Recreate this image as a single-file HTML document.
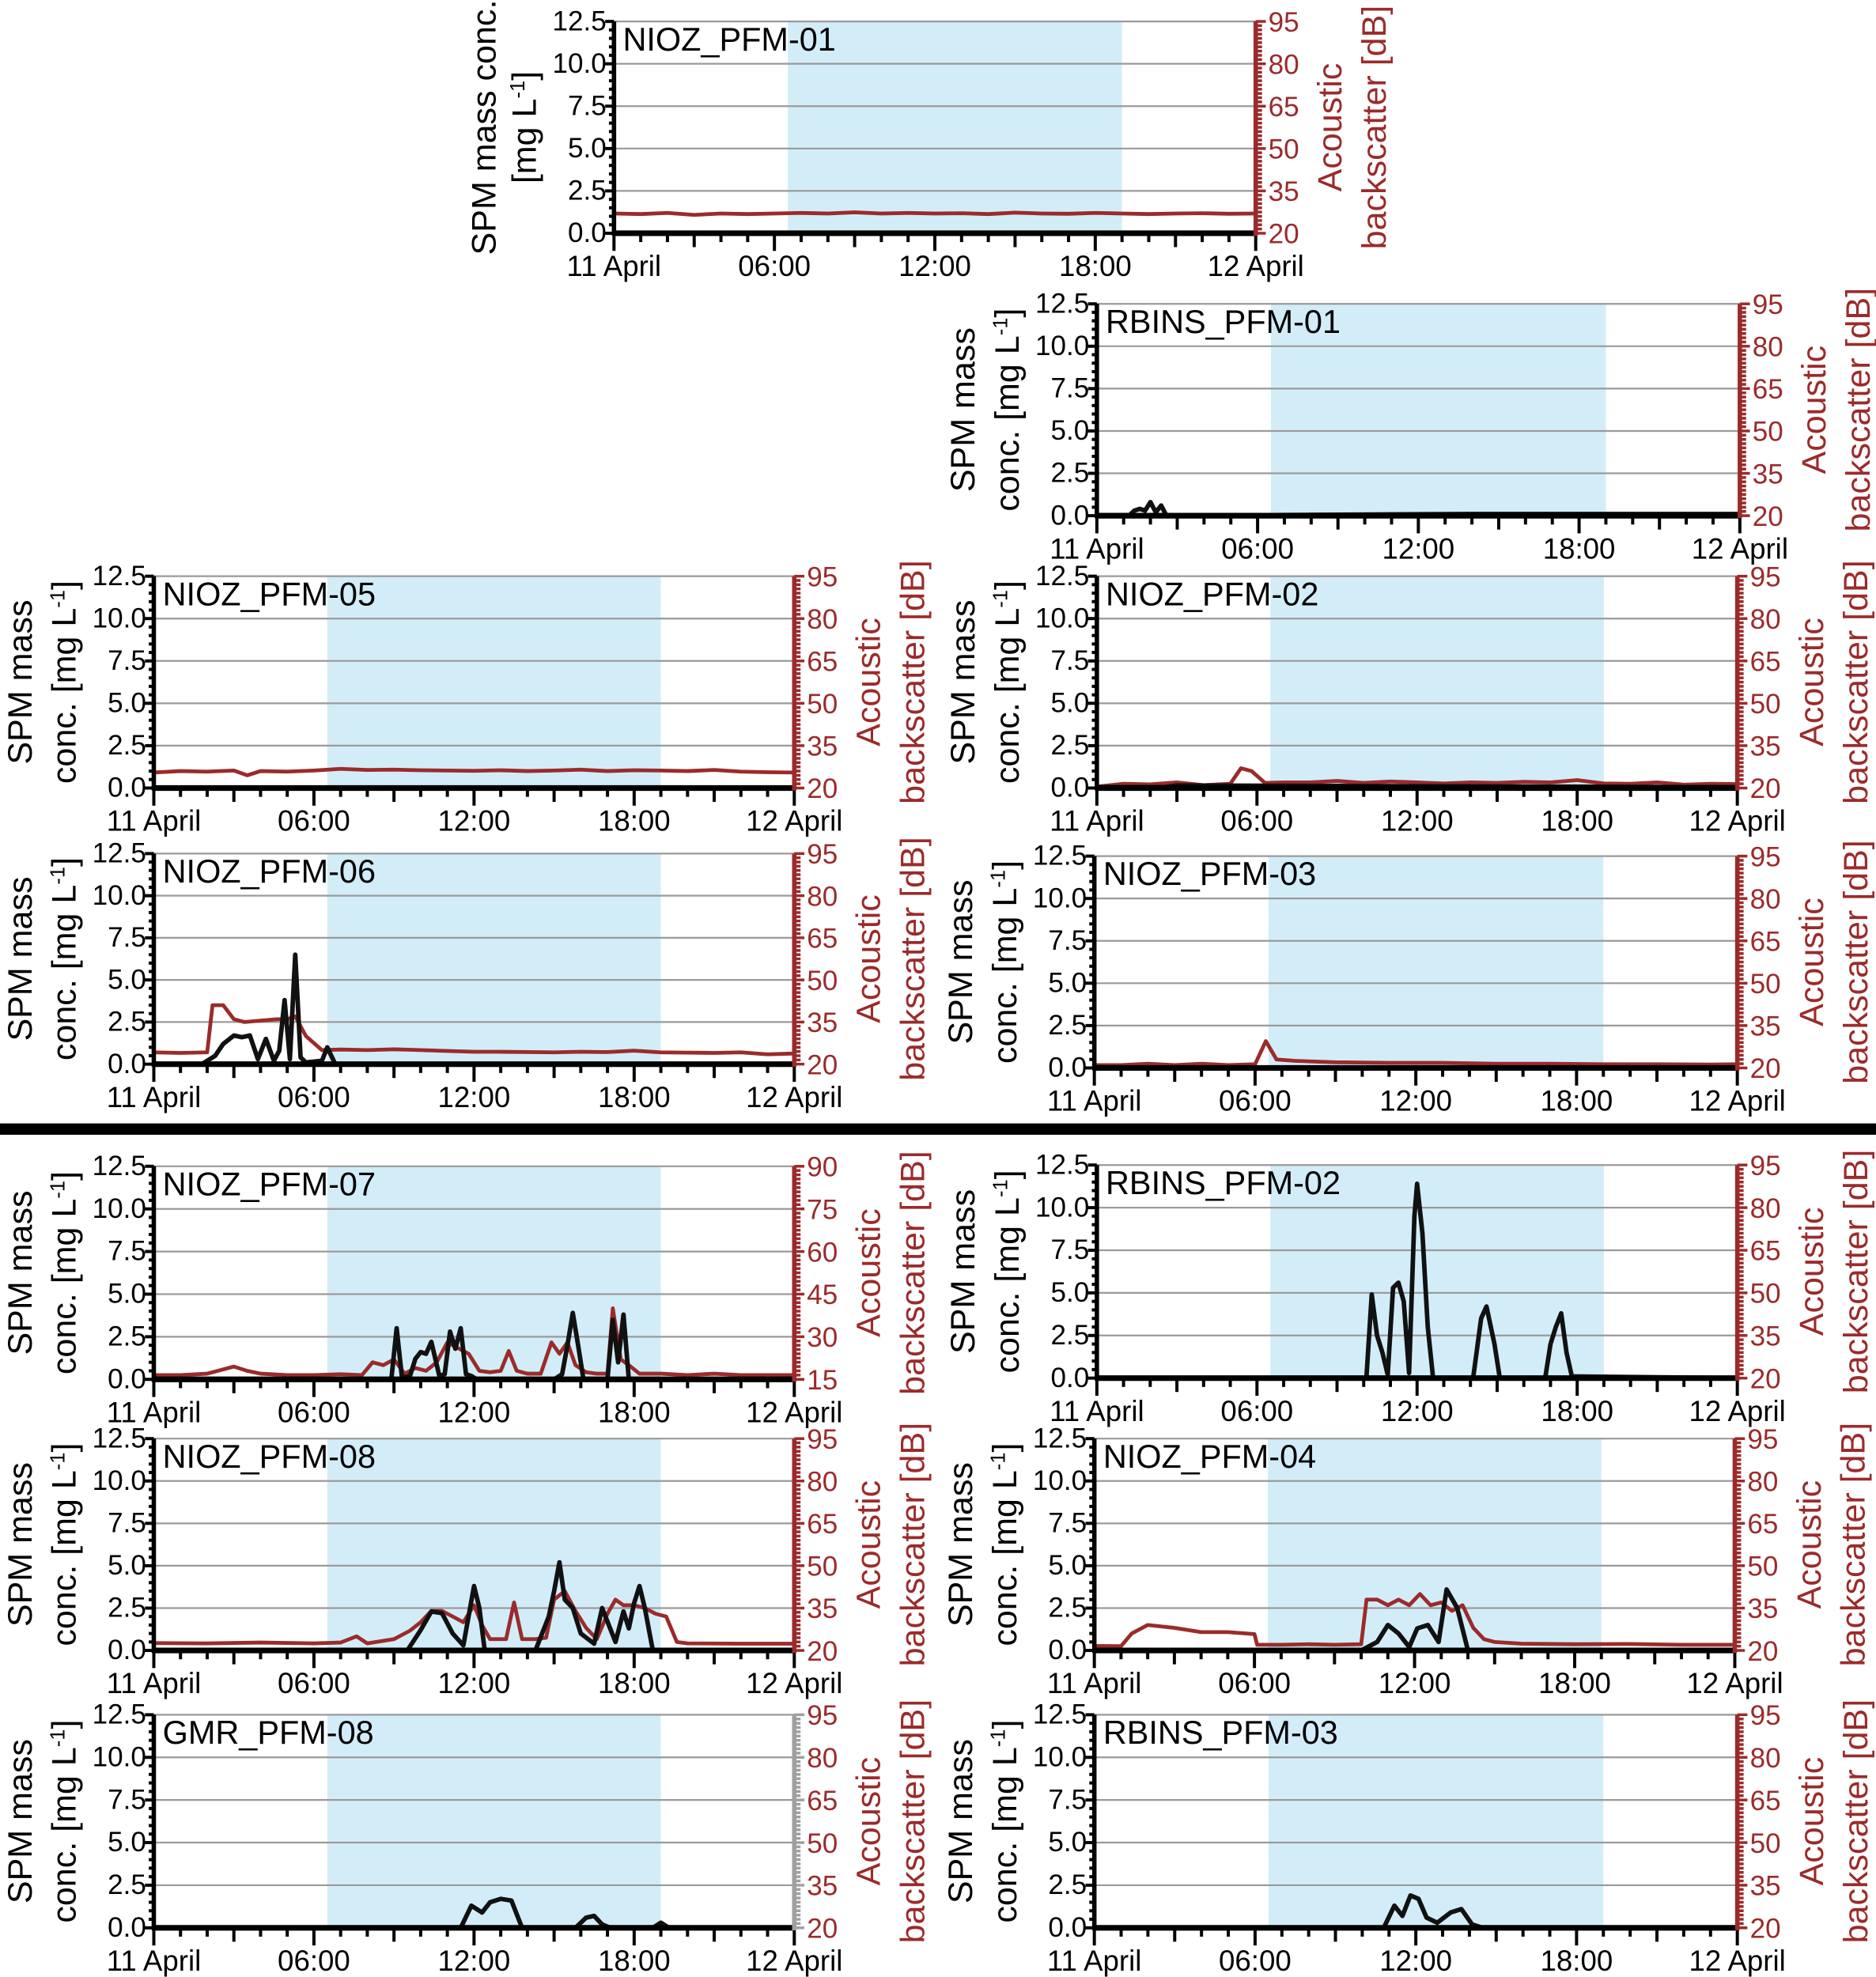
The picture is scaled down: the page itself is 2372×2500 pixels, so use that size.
<!DOCTYPE html>
<html><head><meta charset="utf-8"><style>
html,body{margin:0;padding:0;background:#fff}
svg{display:block}
text{font-family:"Liberation Sans Narrow","Liberation Sans",sans-serif}
.tt{font-family:"Liberation Sans",sans-serif}
</style></head><body>
<svg id="fig" width="2372" height="2500" viewBox="0 0 1488 1568" preserveAspectRatio="none" xmlns="http://www.w3.org/2000/svg">
<rect x="0" y="891" width="1488" height="9" fill="#000"/>
</svg>
<script>
// ---- data (hours since 11 April 00:00, SPM mg/L, backscatter dB) ----
const panelNames = ["NIOZ_PFM-01","RBINS_PFM-01","NIOZ_PFM-05","NIOZ_PFM-02","NIOZ_PFM-06","NIOZ_PFM-03","NIOZ_PFM-07","RBINS_PFM-02","NIOZ_PFM-08","NIOZ_PFM-04","GMR_PFM-08","RBINS_PFM-03"];
const shadeStart = 6.5, shadeEnd = 19.0;
const xTickLabels = ["11 April","06:00","12:00","18:00","12 April"];
const yTickLabels = ["0.0","2.5","5.0","7.5","10.0","12.5"];
const dbTicksStd = [20,35,50,65,80,95];
const dbTicks07 = [15,30,45,60,75,90];

const blackT = {
 "NIOZ_PFM-01":[0,24], "NIOZ_PFM-05":[0,24],
 "RBINS_PFM-01":[0,1.2,1.4,1.6,1.8,2.0,2.2,2.4,2.6,14,24],
 "NIOZ_PFM-02":[0,2.5,3,24],
 "NIOZ_PFM-06":[0,1.8,2.3,2.6,3.0,3.3,3.6,3.9,4.2,4.5,4.7,4.9,5.1,5.3,5.5,5.7,6.3,6.5,6.8,24],
 "NIOZ_PFM-03":[0,24],
 "NIOZ_PFM-07":[0,8.9,9.1,9.3,9.6,9.8,10.0,10.2,10.4,10.7,10.9,11.1,11.3,11.5,11.7,11.9,12.1,15.0,15.3,15.5,15.7,15.9,16.1,17.0,17.2,17.4,17.6,17.8,24],
 "RBINS_PFM-02":[0,10.1,10.3,10.5,10.7,10.9,11.1,11.3,11.5,11.7,11.9,12.0,12.2,12.4,12.6,14.1,14.4,14.6,14.9,15.1,16.8,17.0,17.2,17.4,17.6,17.8,24],
 "NIOZ_PFM-08":[0,9.5,10.0,10.4,10.8,11.2,11.6,12.0,12.2,12.4,14.3,14.8,15.0,15.2,15.4,15.7,16.0,16.5,16.8,17.3,17.6,17.8,18.0,18.2,18.4,18.7,24],
 "NIOZ_PFM-04":[0,10.0,10.6,11.0,11.4,11.8,12.1,12.5,12.9,13.2,13.6,14.0,24],
 "GMR_PFM-08":[0,11.5,11.9,12.3,12.6,13.0,13.4,13.8,15.8,16.2,16.5,16.8,17.1,18.7,19.0,19.3,24],
 "RBINS_PFM-03":[0,10.8,11.2,11.5,11.8,12.1,12.4,12.8,13.3,13.7,14.1,14.5,24]
};
const blackV = {
 "NIOZ_PFM-01":[0,0], "NIOZ_PFM-05":[0,0],
 "RBINS_PFM-01":[0,0,0.3,0.4,0.3,0.8,0.2,0.6,0,0.1,0.1],
 "NIOZ_PFM-02":[0.05,0.05,0.15,0.05],
 "NIOZ_PFM-06":[0,0,0.5,1.2,1.7,1.6,1.7,0.3,1.5,0.2,0.8,3.8,0.3,6.5,0.4,0.1,0.2,1.0,0,0],
 "NIOZ_PFM-03":[0,0],
 "NIOZ_PFM-07":[0,0,3.0,0.1,0.2,1.2,1.6,1.5,2.2,0.2,0.3,2.8,1.8,3.0,0.3,0.2,0,0,0.3,2.0,3.9,2.0,0,0,3.5,1.0,3.8,0,0],
 "RBINS_PFM-02":[0,0,4.9,2.5,1.5,0.2,5.3,5.6,4.5,0.3,9.5,11.4,8.5,3.0,0,0,3.5,4.2,2.0,0,0,2.0,3.0,3.8,1.5,0.1,0],
 "NIOZ_PFM-08":[0,0,1.2,2.3,2.2,1.0,0.3,3.8,2.5,0,0,2.0,3.5,5.2,3.0,2.5,1.0,0.4,2.5,0.5,2.3,1.3,2.8,3.8,2.5,0,0],
 "NIOZ_PFM-04":[0,0,0.5,1.5,1.0,0.2,1.3,1.5,0.5,3.6,2.5,0,0],
 "GMR_PFM-08":[0,0,1.3,0.9,1.5,1.7,1.6,0,0,0.6,0.7,0.2,0,0,0.3,0,0],
 "RBINS_PFM-03":[0,0,1.3,0.7,1.9,1.7,0.6,0.3,0.9,1.1,0.2,0,0]
};
const redT = {
 "NIOZ_PFM-01":[0,1,2,3,4,5,6,7,8,9,10,11,12,13,14,15,16,17,18,19,20,21,22,23,24],
 "NIOZ_PFM-05":[0,1,2,3,3.5,4,5,6,7,8,9,10,11,12,13,14,15,16,17,18,19,20,21,22,23,24],
 "NIOZ_PFM-02":[0,1,2,3,4,5,5.4,5.8,6.3,7,8,9,10,11,12,13,14,15,16,17,18,19,20,21,22,23,24],
 "NIOZ_PFM-06":[0,1,2.0,2.2,2.6,3.0,3.4,4,4.6,5.0,5.3,5.7,6.3,7,8,9,10,11,12,13,14,15,16,17,18,19,20,21,22,23,24],
 "NIOZ_PFM-03":[0,1,2,3,4,5,6,6.4,6.8,7.5,9,11,13,15,17,19,21,23,24],
 "NIOZ_PFM-07":[0,1,2,3,3.5,4,5,6,7,7.8,8.2,8.6,9.0,9.4,9.8,10.2,10.6,11.0,11.4,11.8,12.2,12.6,13.0,13.3,13.6,14.0,14.5,14.9,15.2,15.5,15.8,16.2,16.6,17.0,17.2,17.5,17.8,18.2,19,20,21,22,23,24],
 "RBINS_PFM-02":[],
 "NIOZ_PFM-08":[0,2,4,6,7,7.6,8,9,9.6,10.0,10.4,10.8,11.2,11.6,12.0,12.3,12.6,13.2,13.5,13.8,14.3,14.7,15.0,15.4,15.8,16.2,16.6,17.0,17.3,17.6,18.0,18.4,18.8,19.2,19.6,20,22,24],
 "NIOZ_PFM-04":[0,1,1.4,2,3,4,5,6,6.1,7,8,9,10,10.2,10.6,11,11.4,11.8,12.2,12.6,13,13.4,13.8,14.2,14.6,15,16,18,20,22,24],
 "GMR_PFM-08":[],
 "RBINS_PFM-01":[],
 "RBINS_PFM-03":[]
};
const redV = {
 "NIOZ_PFM-01":[27,26.8,27.2,26.5,27,26.8,27,27.2,27,27.4,27,27.2,27,27.1,26.8,27.3,27,26.9,27.2,27,26.8,27,27.1,26.9,27],
 "NIOZ_PFM-05":[25.5,26,25.8,26.2,24.5,26,25.8,26.2,26.8,26.4,26.5,26.3,26.2,26.1,26.3,26,26.2,26.5,26,26.3,26.2,26,26.4,25.8,25.6,25.5],
 "NIOZ_PFM-02":[20.5,21.5,21.3,22,21,21.5,27,26,21.8,22,22,22.5,21.8,22.3,22,21.6,22,21.8,22.2,22,22.8,21.6,21.5,22,21.2,21.5,21.4],
 "NIOZ_PFM-06":[24.2,24,24.2,41,41,36,35,35.5,36,36,37,30,25,25.2,25,25.3,25,24.7,24.4,24.4,24.3,24.2,24.4,24.3,24.8,24.2,24.1,24,24.2,23.5,23.8],
 "NIOZ_PFM-03":[21,21,21.5,21,21.5,21,21.3,29.5,23,22.5,22,21.8,21.8,21.5,21.5,21.3,21.3,21.2,21.3],
 "NIOZ_PFM-07":[16.5,16.5,17,19.5,18,17,16.5,16.5,16.8,16.5,21,20,22,17,19,18,21,28,26,24,18,17.5,18,25,18,17,17,28,24,28,20,17.5,17,17,40,22,20,17,17,16.5,17,16.5,16.5,16.5],
 "RBINS_PFM-02":[],
 "NIOZ_PFM-08":[22.6,22.5,22.8,22.5,22.8,25,22.5,24,27,30,34,34,32,30,36,29,24,24,37,24,24,24.5,38,41,34,28,24,33,38,36,36,35,33,32,23,22.5,22.4,22.4],
 "NIOZ_PFM-04":[21.6,21.5,26,29,28,26.5,26.5,25.8,22,22,22.2,22,22.2,38,38,36,38,36,40,36,37,34,36,28,24,23,22.4,22.2,22.3,22,22],
 "GMR_PFM-08":[],
 "RBINS_PFM-01":[],
 "RBINS_PFM-03":[]
};

// ---- layout ----
const layout = [
 {n:"NIOZ_PFM-01",x0:487,x1:996,y0:17,y1:185,top:true},
 {n:"RBINS_PFM-01",x0:870,x1:1380,y0:241,y1:409},
 {n:"NIOZ_PFM-05",x0:122,x1:630,y0:457,y1:625},
 {n:"NIOZ_PFM-02",x0:870,x1:1378,y0:457,y1:625},
 {n:"NIOZ_PFM-06",x0:122,x1:630,y0:677,y1:844},
 {n:"NIOZ_PFM-03",x0:868,x1:1378,y0:679,y1:847},
 {n:"NIOZ_PFM-07",x0:122,x1:630,y0:925,y1:1094,db:dbTicks07},
 {n:"RBINS_PFM-02",x0:870,x1:1378,y0:924,y1:1093},
 {n:"NIOZ_PFM-08",x0:122,x1:630,y0:1141,y1:1309},
 {n:"NIOZ_PFM-04",x0:868,x1:1376,y0:1141,y1:1309},
 {n:"GMR_PFM-08",x0:122,x1:630,y0:1360,y1:1529,gray:true},
 {n:"RBINS_PFM-03",x0:868,x1:1378,y0:1360,y1:1529}
];
const NS="http://www.w3.org/2000/svg";
const svg=document.getElementById('fig');
const RED="#9b2b2b";
function mk(tag,attrs,parent){const e=document.createElementNS(NS,tag);for(const k in attrs)e.setAttribute(k,attrs[k]);(parent||svg).appendChild(e);return e;}
function txt(s,attrs,parent){const e=mk('text',attrs,parent);e.textContent=s;return e;}

layout.forEach(p=>{
 const g=mk('g',{});
 
 
 const db=p.db||dbTicksStd, dbLo=db[0], dbHi=db[db.length-1];
 const X=h=>p.x0+(p.x1-p.x0)*h/24;
 const Y=v=>p.y1-(p.y1-p.y0)*v/12.5;
 const YD=d=>p.y1-(p.y1-p.y0)*(d-dbLo)/(dbHi-dbLo);
 const sh=mk('rect',{x:X(shadeStart),y:p.y0,width:X(shadeEnd)-X(shadeStart),height:p.y1-p.y0,fill:"#d3edf8"},g);
 
 
 for(let i=1;i<=5;i++){
  const gl=mk('line',{x1:p.x0,x2:p.x1,y1:Y(i*2.5),y2:Y(i*2.5),stroke:"#9a9a9a","stroke-width":1.4},g);
  
  
 }
 const rt=redT[p.n], rv=redV[p.n];
 if(rt.length){
  const pl=mk('polyline',{points:rt.map((t,i)=>X(t)+","+YD(rv[i])).join(" "),fill:"none",stroke:RED,"stroke-width":3,"stroke-linejoin":"round"},g);
  
  
 }
 const bt=blackT[p.n], bv=blackV[p.n];
 const bl=mk('polyline',{points:bt.map((t,i)=>X(t)+","+Y(bv[i])).join(" "),fill:"none",stroke:"#111","stroke-width":3.6,"stroke-linejoin":"round"},g);
 
 
 const la=mk('line',{x1:p.x0,x2:p.x0,y1:p.y0,y2:p.y1+2,stroke:"#000","stroke-width":3.5},g);
 
 
 for(let v=0;v<=12.5001;v+=0.5){
  const major=Math.abs(v/2.5-Math.round(v/2.5))<1e-6;
  mk('line',{x1:p.x0-(major?7:4),x2:p.x0,y1:Y(v),y2:Y(v),stroke:"#000","stroke-width":2.5},g);
 }
 yTickLabels.forEach((s,i)=>{
  const t=txt(s,{x:p.x0-6,y:Y(i*2.5)+7,"font-size":22,"text-anchor":"end"},g);
  
  
 });
 const ba=mk('line',{x1:p.x0,x2:p.x1,y1:p.y1,y2:p.y1,stroke:"#000","stroke-width":4.5},g);
 
 
 for(let h=0;h<=24;h++){
  const major=h%6==0, mid=h%3==0;
  mk('line',{x1:X(h),x2:X(h),y1:p.y1,y2:p.y1+(major?14:mid?11:7),stroke:"#000","stroke-width":2.5},g);
 }
 xTickLabels.forEach((s,i)=>{
  const t=txt(s,{x:X(i*6),y:p.y1+34,"font-size":23,"text-anchor":"middle"},g);
  
  
 });
 const rc=p.gray?"#a0a0a0":RED;
 const ra=mk('line',{x1:p.x1,x2:p.x1,y1:p.y0,y2:p.y1+2,stroke:rc,"stroke-width":3.5},g);
 
 
 for(let d=dbLo;d<=dbHi+0.01;d+=1.5){
  const major=Math.abs((d-dbLo)/15-Math.round((d-dbLo)/15))<1e-6;
  mk('line',{x1:p.x1,x2:p.x1+(major?8:5),y1:YD(d),y2:YD(d),stroke:rc,"stroke-width":2.2},g);
 }
 db.forEach(d=>{
  const t=txt(String(d),{x:p.x1+10,y:YD(d)+8,"font-size":22,fill:RED},g);
  
  
 });
 const ti=txt(p.n,{x:p.x0+7,y:p.y0+23,"font-size":26},g);
 
 
 const cy=(p.y0+p.y1)/2;
 const l1=p.top?"SPM mass conc.":"SPM mass";
 const a1=txt(l1,{x:0,y:0,"font-size":27,"text-anchor":"middle",class:"tt",transform:`translate(${p.x0-(p.top?94:97)},${cy}) rotate(-90)`},g);
 
 
 const a2=mk('text',{x:0,y:0,"font-size":27,"text-anchor":"middle",class:"tt",transform:`translate(${p.x0-(p.top?62:62)},${cy}) rotate(-90)`},g);
 a2.innerHTML=(p.top?"":"conc. ")+'[mg L<tspan dy="-9" font-size="16">-1</tspan><tspan dy="9">]</tspan>';
 
 
 const r1=txt("Acoustic",{x:0,y:0,"font-size":27,"text-anchor":"middle",fill:RED,class:"tt",transform:`translate(${p.x1+68},${cy}) rotate(-90)`},g);
 
 
 const r2=txt("backscatter [dB]",{x:0,y:0,"font-size":27,"text-anchor":"middle",fill:RED,class:"tt",transform:`translate(${p.x1+103},${cy}) rotate(-90)`},g);
 
 
});
</script>
</body></html>
